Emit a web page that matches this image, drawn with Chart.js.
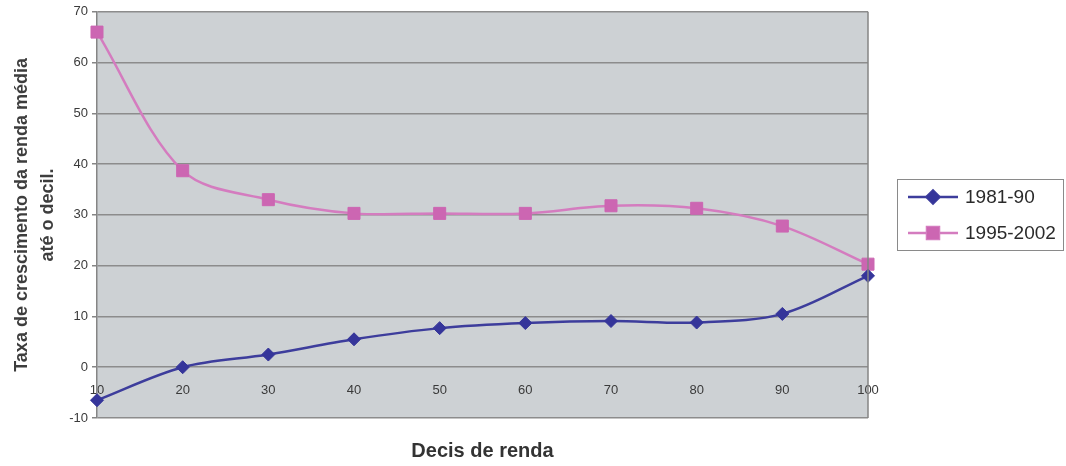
<!DOCTYPE html>
<html>
<head>
<meta charset="utf-8">
<script src="https://cdn.jsdelivr.net/npm/chart.js@4/dist/chart.umd.min.js"></script>
<style>
  html, body { margin: 0; padding: 0; background: #ffffff; }
  #wrap { width: 1066px; height: 466px; }
</style>
</head>
<body>
<div id="wrap"><canvas id="grafico" width="1066" height="466"></canvas></div>
<script>
// Decis de renda (eixo horizontal)
const decis = ['10', '20', '30', '40', '50', '60', '70', '80', '90', '100'];

// Taxa de crescimento da renda média até o decil (%)
const serie1981_90 = [-6.5, 0, 2.5, 5.5, 7.7, 8.7, 9.1, 8.8, 10.5, 18];
const serie1995_2002 = [66, 38.7, 33, 30.3, 30.3, 30.3, 31.8, 31.3, 27.8, 20.3];

const nomesSeries = ['1981-90', '1995-2002'];

// Marcas do eixo vertical
const eixoYMin = -10;
const eixoYMax = 70;
const eixoYPasso = 10;

const tituloY = ['Taxa de crescimento da renda média', 'até o decil.'];
const tituloX = 'Decis de renda';

const FONTE = "'Liberation Sans', Arial, sans-serif";

// Fundo cinza e moldura da área de plotagem
const fundoPlotagem = {
  id: 'fundoPlotagem',
  beforeDraw(chart) {
    const { ctx, chartArea: a } = chart;
    ctx.save();
    ctx.fillStyle = '#cdd1d4';
    ctx.fillRect(a.left, a.top, a.right - a.left, a.bottom - a.top);
    ctx.restore();
  },
  afterDatasetsDraw(chart) {
    const { ctx, chartArea: a } = chart;
    ctx.save();
    ctx.strokeStyle = '#858585';
    ctx.lineWidth = 1.5;
    ctx.beginPath();
    ctx.moveTo(a.right, a.top);
    ctx.lineTo(a.right, a.bottom);
    ctx.stroke();
    ctx.restore();
  }
};

// Legenda com linha e marcador, em caixa à direita
const legendaCaixa = {
  id: 'legendaCaixa',
  afterDraw(chart) {
    const { ctx } = chart;
    const x0 = 897, y0 = 179, w = 166, h = 71;
    ctx.save();
    ctx.strokeStyle = '#8a8a8a';
    ctx.lineWidth = 1;
    ctx.strokeRect(x0 + 0.5, y0 + 0.5, w, h);
    chart.data.datasets.forEach((ds, i) => {
      const cy = 197 + i * 36;
      ctx.strokeStyle = ds.borderColor;
      ctx.lineWidth = ds.borderWidth;
      ctx.beginPath();
      ctx.moveTo(908, cy);
      ctx.lineTo(958, cy);
      ctx.stroke();
      Chart.helpers.drawPoint(ctx, {
        pointStyle: ds.pointStyle,
        radius: ds.pointRadius,
        borderWidth: 1,
        rotation: 0
      }, 933, cy);
      ctx.fillStyle = ds.pointBackgroundColor;
      ctx.strokeStyle = ds.pointBorderColor;
      ctx.fill();
      ctx.fillStyle = '#2a2a2a';
      ctx.font = '19px ' + FONTE;
      ctx.textBaseline = 'middle';
      ctx.textAlign = 'left';
      ctx.fillText(ds.label, 965, cy + 1);
    });
    ctx.restore();
  }
};

new Chart(document.getElementById('grafico'), {
  type: 'line',
  data: {
    labels: decis,
    datasets: [
      {
        label: nomesSeries[0],
        data: serie1981_90,
        borderColor: '#3d3d9c',
        borderWidth: 2.5,
        pointStyle: 'rectRot',
        pointRadius: 6.5,
        pointHoverRadius: 6.5,
        pointBackgroundColor: '#35359a',
        pointBorderColor: '#35359a',
        pointBorderWidth: 1,
        tension: 0.33,
        fill: false
      },
      {
        label: nomesSeries[1],
        data: serie1995_2002,
        borderColor: '#d47cbf',
        borderWidth: 2.5,
        pointStyle: 'rect',
        pointRadius: 8.5,
        pointHoverRadius: 8.5,
        pointBackgroundColor: '#cc66b2',
        pointBorderColor: '#cc66b2',
        pointBorderWidth: 1,
        tension: 0.33,
        fill: false
      }
    ]
  },
  options: {
    responsive: false,
    animation: false,
    events: [],
    layout: { padding: { left: 0, right: 198, top: 10, bottom: 0 } },
    plugins: {
      legend: { display: false },
      tooltip: { enabled: false },
      title: {
        display: true,
        text: tituloX,
        position: 'bottom',
        fullSize: false,
        color: '#333333',
        font: { family: FONTE, size: 20, weight: 'bold', lineHeight: 1.2 },
        padding: { top: 21, bottom: 3 }
      }
    },
    scales: {
      x: {
        type: 'category',
        offset: false,
        position: { y: 0 },
        border: { display: false },
        grid: { display: false, drawTicks: false },
        ticks: {
          color: '#3a3a3a',
          font: { family: FONTE, size: 13 },
          padding: 15,
          maxRotation: 0,
          autoSkip: false
        }
      },
      y: {
        type: 'linear',
        position: 'left',
        min: eixoYMin,
        max: eixoYMax,
        afterFit(scale) { scale.width = 97; },
        border: { display: true, color: '#858585', width: 1.5 },
        grid: {
          color: '#8c8c8c',
          lineWidth: 1.5,
          drawTicks: true,
          tickLength: 5,
          tickColor: '#858585'
        },
        ticks: {
          stepSize: eixoYPasso,
          color: '#3a3a3a',
          font: { family: FONTE, size: 13 },
          padding: 4
        },
        title: {
          display: true,
          text: tituloY,
          color: '#3d3d3d',
          font: { family: FONTE, size: 18, weight: 'bold', lineHeight: 1.45 },
          padding: { top: 9, bottom: 0 }
        }
      }
    }
  },
  plugins: [fundoPlotagem, legendaCaixa]
});
</script>
</body>
</html>
